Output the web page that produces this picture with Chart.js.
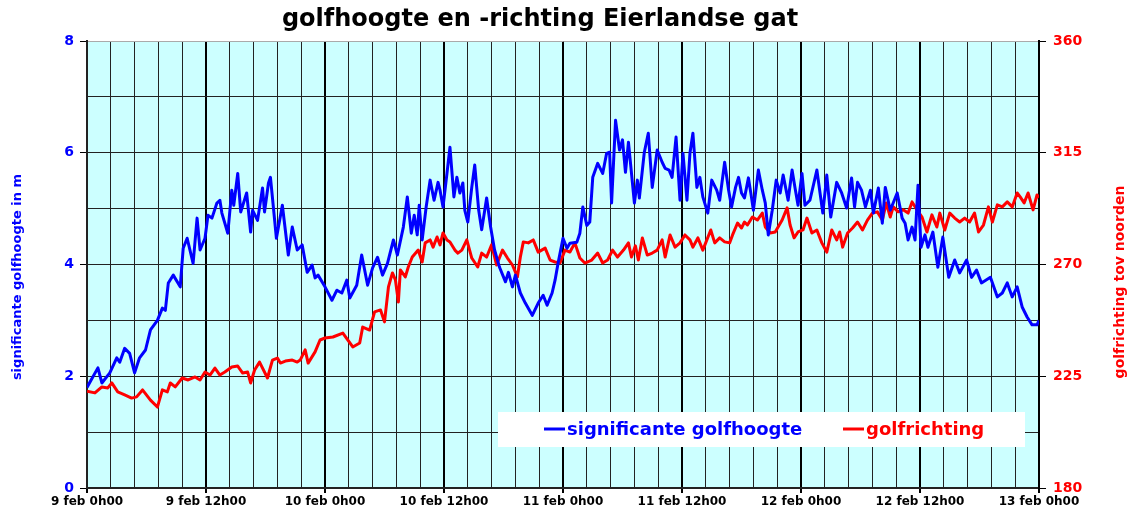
<!DOCTYPE html>
<html>
<head>
<meta charset="utf-8">
<script src="https://cdn.jsdelivr.net/npm/chart.js@4/dist/chart.umd.min.js"></script>
<style>
  html, body { margin: 0; padding: 0; background: #fff; }
  #wrap { width: 1131px; height: 513px; }
</style>
</head>
<body>
<div id="wrap"><canvas id="myChart" width="1131" height="513"></canvas></div>
<script>
// hours since 9 feb 0h00
const titleText = 'golfhoogte en -richting Eierlandse gat';
const days = ['9 feb', '10 feb', '11 feb', '12 feb', '13 feb'];

// significante golfhoogte (m)
const hsHours = [
  0,1.1,1.5,2.3,3.0,3.3,3.8,4.3,4.8,5.3,
  5.9,6.4,7.1,7.6,7.9,8.2,8.7,9.4,9.7,10.1,
  10.7,11.1,11.4,11.9,12.2,12.6,13.1,13.4,13.6,14.2,
  14.6,14.8,15.2,15.5,16.1,16.5,16.7,17.2,17.7,17.9,
  18.3,18.5,19.1,19.7,20.3,20.7,21.2,21.7,22.2,22.7,
  23.0,23.3,24.0,24.7,25.2,25.7,26.2,26.5,27.2,27.7,
  28.3,28.8,29.3,29.8,30.3,30.9,31.3,31.9,32.3,32.7,
  33.0,33.3,33.5,33.8,34.2,34.6,35.0,35.4,35.6,35.9,
  36.3,36.6,37.0,37.3,37.6,37.9,38.1,38.4,38.8,39.1,
  39.5,39.8,40.3,40.7,41.1,41.6,42.2,42.5,42.9,43.2,
  43.7,44.2,44.9,45.5,46.0,46.4,46.9,47.2,47.5,48.0,
  48.4,48.7,49.4,49.7,50.0,50.4,50.7,51.0,51.5,52.0,
  52.4,52.7,52.9,53.3,53.7,54.0,54.3,54.6,55.2,55.5,
  55.7,56.2,56.6,57.0,57.5,58.0,58.3,58.7,59.0,59.4,
  59.8,60.1,60.5,60.8,61.1,61.5,61.8,62.1,62.6,63.0,
  63.5,63.8,64.3,64.7,65.0,65.4,65.7,66.0,66.3,66.7,
  67.0,67.2,67.7,68.1,68.4,68.7,69.1,69.5,69.9,70.2,
  70.7,71.1,71.4,71.7,72.1,72.4,72.9,73.6,74.2,74.6,
  75.0,75.6,76.1,76.6,77.1,77.4,77.7,78.1,78.5,79.0,
  79.3,79.8,80.2,80.5,81.0,81.7,82.2,82.5,82.8,83.2,
  83.5,83.8,84.1,84.5,84.8,85.3,85.8,86.3,86.9,87.5,
  88.0,88.7,89.2,89.7,90.2,91.1,91.8,92.3,92.8,93.3,
  93.8,94.3,94.8,95.3,95.8,96.0
];
const hsValues = [
  1.80,2.15,1.88,2.06,2.33,2.25,2.50,2.41,2.06,2.33,
  2.47,2.83,3.00,3.22,3.18,3.67,3.81,3.60,4.29,4.47,
  4.02,4.83,4.26,4.47,4.88,4.83,5.10,5.15,4.92,4.56,
  5.33,5.06,5.63,4.94,5.28,4.58,4.97,4.79,5.37,4.94,
  5.46,5.56,4.47,5.06,4.17,4.67,4.26,4.35,3.86,3.99,
  3.76,3.81,3.60,3.36,3.54,3.49,3.72,3.40,3.63,4.17,
  3.63,3.94,4.13,3.81,4.02,4.44,4.17,4.67,5.21,4.56,
  4.88,4.53,5.06,4.44,5.03,5.51,5.15,5.47,5.33,5.03,
  5.63,6.10,5.21,5.56,5.28,5.46,4.97,4.76,5.38,5.78,
  4.97,4.62,5.19,4.67,4.26,3.95,3.69,3.86,3.60,3.81,
  3.49,3.31,3.09,3.31,3.45,3.27,3.49,3.72,4.02,4.47,
  4.29,4.38,4.40,4.56,5.03,4.70,4.76,5.56,5.81,5.63,
  5.99,6.01,5.10,6.58,6.05,6.23,5.65,6.19,5.10,5.51,
  5.19,6.01,6.35,5.38,6.05,5.83,5.72,5.69,5.56,6.28,
  5.15,5.99,5.15,5.99,6.35,5.38,5.56,5.21,4.92,5.51,
  5.33,5.15,5.83,5.33,5.03,5.38,5.56,5.28,5.19,5.55,
  5.21,4.97,5.69,5.33,5.10,4.53,4.97,5.51,5.28,5.60,
  5.15,5.69,5.37,5.06,5.63,5.06,5.15,5.69,4.92,5.60,
  4.85,5.47,5.28,5.01,5.55,5.03,5.47,5.33,5.03,5.33,
  4.92,5.37,4.74,5.38,4.97,5.28,4.83,4.74,4.44,4.67,
  4.44,5.42,4.31,4.53,4.31,4.58,3.95,4.49,3.77,4.08,
  3.85,4.08,3.77,3.90,3.67,3.77,3.42,3.49,3.67,3.42,
  3.60,3.24,3.06,2.92,2.92,3.00
];

// golfrichting (graden tov noorden)
const dirHours = [
  0,0.8,1.5,2.1,2.5,3.1,3.8,4.5,5.0,5.6,
  6.4,7.1,7.6,8.1,8.4,8.9,9.6,10.2,10.9,11.4,
  11.9,12.4,12.9,13.4,13.9,14.6,15.2,15.7,16.2,16.5,
  16.9,17.4,18.2,18.7,19.2,19.5,20.0,20.7,21.2,21.5,
  22.0,22.3,23.0,23.5,24.0,24.8,25.8,26.8,27.5,27.8,
  28.5,29.0,29.6,30.0,30.4,30.8,31.1,31.4,31.6,32.1,
  32.4,32.8,33.4,33.8,34.1,34.6,34.9,35.3,35.6,35.9,
  36.3,36.6,37.1,37.4,37.8,38.3,38.8,39.4,39.8,40.3,
  40.8,41.3,41.9,42.4,42.9,43.4,43.7,44.0,44.5,45.0,
  45.5,46.2,46.7,47.2,47.7,48.2,48.7,49.2,49.7,50.2,
  50.9,51.5,52.0,52.5,53.0,53.5,54.1,54.6,54.9,55.3,
  55.6,56.0,56.5,57.0,57.5,58.0,58.3,58.8,59.3,59.8,
  60.3,60.8,61.1,61.6,62.1,62.9,63.3,63.8,64.3,64.8,
  65.1,65.6,66.0,66.3,66.6,67.1,67.6,68.1,68.4,68.9,
  69.4,70.1,70.6,70.9,71.3,71.7,72.2,72.6,73.1,73.6,
  74.1,74.6,75.1,75.6,75.9,76.2,76.7,77.2,77.7,78.2,
  78.7,79.2,79.7,80.2,80.6,81.0,81.3,81.8,82.3,82.8,
  83.2,83.7,84.2,84.7,85.2,85.7,86.0,86.5,87.0,87.5,
  88.0,88.5,89.0,89.5,89.9,90.4,90.9,91.3,91.8,92.3,
  92.8,93.3,93.8,94.1,94.5,94.9,95.4,95.8,96.0
];
const dirValues = [
  219.0,218.3,220.7,220.3,222.3,218.7,217.5,216.2,216.7,219.5,
  215.4,212.6,219.5,218.7,222.3,220.7,224.3,223.5,224.7,223.5,
  226.7,225.5,228.3,225.5,226.7,228.7,229.1,226.3,226.7,222.3,
  227.5,230.7,224.3,231.5,232.3,230.3,231.1,231.5,230.7,231.5,
  235.6,230.3,234.8,239.6,240.4,240.8,242.4,236.8,238.4,244.8,
  243.6,250.9,251.7,246.9,261.0,266.6,263.8,254.9,267.8,265.0,
  269.0,273.0,275.8,271.0,278.7,279.9,277.0,281.1,277.9,282.7,
  279.9,279.1,275.8,274.6,275.8,279.9,272.6,269.0,274.6,273.0,
  277.9,269.8,275.8,272.6,269.8,265.0,273.0,279.1,278.7,279.9,
  275.0,276.6,271.8,271.0,270.6,275.8,275.0,278.7,272.6,270.6,
  271.8,274.6,270.6,271.8,275.8,273.0,275.8,278.7,273.0,277.5,
  271.8,280.7,273.8,274.6,275.8,279.9,273.0,281.9,277.0,278.7,
  281.9,279.9,277.0,280.7,275.8,283.9,278.7,280.7,279.1,278.7,
  281.9,286.7,284.7,287.1,285.9,289.1,287.9,290.7,285.1,282.7,
  283.1,287.9,292.8,285.9,280.7,283.1,283.9,288.7,282.7,283.9,
  278.7,275.0,283.9,279.9,283.1,277.0,282.7,284.7,287.1,283.9,
  287.9,290.7,291.2,287.9,294.8,289.1,293.2,291.2,292.0,290.7,
  295.2,292.0,289.1,283.1,290.0,285.1,290.7,283.9,290.7,288.7,
  287.1,288.7,287.1,290.7,283.1,285.9,293.2,287.1,294.0,293.2,
  295.2,293.2,298.8,297.2,294.8,298.8,292.0,298.0,297.0
];

const FONT = '"DejaVu Sans", Verdana, sans-serif';
const isMult = (v, m) => Math.abs(v / m - Math.round(v / m)) < 1e-6;

const data = {
  datasets: [{
    label: 'significante golfhoogte',
    data: hsHours.map((h, i) => ({ x: h, y: hsValues[i] })),
    borderColor: '#0000ff',
    borderWidth: 3,
    borderJoinStyle: 'round',
    pointRadius: 0,
    tension: 0,
    yAxisID: 'y'
  }, {
    label: 'golfrichting',
    data: dirHours.map((h, i) => ({ x: h, y: dirValues[i] })),
    borderColor: '#ff0000',
    borderWidth: 3,
    borderJoinStyle: 'round',
    pointRadius: 0,
    tension: 0,
    yAxisID: 'y2'
  }]
};

// background, title, axis titles and the legend box inside the plot
const decor = {
  id: 'decor',
  beforeDraw(chart) {
    const { ctx, chartArea: a } = chart;
    ctx.save();
    ctx.fillStyle = '#ccffff';
    ctx.fillRect(a.left, a.top, a.right - a.left, a.bottom - a.top);
    ctx.restore();
  },
  afterDraw(chart) {
    const ctx = chart.ctx;
    ctx.save();
    ctx.textBaseline = 'middle';
    ctx.textAlign = 'center';
    ctx.fillStyle = '#000';
    ctx.font = 'bold 24px ' + FONT;
    ctx.fillText(titleText, 540, 20);

    ctx.save();
    ctx.translate(18, 277);
    ctx.rotate(-Math.PI / 2);
    ctx.font = 'bold 13px ' + FONT;
    ctx.fillStyle = '#0000ff';
    ctx.fillText('significante golfhoogte in m', 0, 0);
    ctx.restore();

    ctx.save();
    ctx.translate(1120, 282);
    ctx.rotate(-Math.PI / 2);
    ctx.font = 'bold 14px ' + FONT;
    ctx.fillStyle = '#ff0000';
    ctx.fillText('golfrichting tov noorden', 0, 0);
    ctx.restore();

    // legend
    ctx.fillStyle = '#fff';
    ctx.fillRect(498, 412, 527, 35);
    const items = [[544, chart.data.datasets[0]], [843, chart.data.datasets[1]]];
    ctx.font = 'bold 18px ' + FONT;
    ctx.textAlign = 'left';
    items.forEach(([x, ds]) => {
      ctx.strokeStyle = ds.borderColor;
      ctx.lineWidth = 3;
      ctx.beginPath();
      ctx.moveTo(x, 429);
      ctx.lineTo(x + 21, 429);
      ctx.stroke();
      ctx.fillStyle = ds.borderColor;
      ctx.fillText(ds.label, x + 23, 430);
    });
    ctx.restore();
  }
};

const config = {
  type: 'line',
  data,
  options: {
    responsive: false,
    animation: false,
    layout: { padding: { top: 41, left: 0, right: 0, bottom: 0 } },
    plugins: {
      legend: { display: false },
      title: { display: false },
      tooltip: { enabled: false }
    },
    scales: {
      x: {
        type: 'linear',
        min: 0,
        max: 96,
        afterFit: s => { s.height = 25; },
        border: { color: '#222', width: 2 },
        grid: {
          color: c => isMult(c.tick.value, 12) ? '#000' : '#222',
          lineWidth: c => isMult(c.tick.value, 12) ? 2 : 1,
          tickLength: 5,
          tickColor: c => isMult(c.tick.value, 12) ? '#000' : 'rgba(0,0,0,0)'
        },
        ticks: {
          stepSize: 2.4,
          autoSkip: false,
          maxRotation: 0,
          padding: 2,
          color: '#000',
          font: { family: FONT, size: 12, weight: 'bold' },
          callback: v => {
            if (!isMult(v, 12)) return '';
            const k = Math.round(v / 12);
            return days[Math.floor(k / 2)] + (k % 2 ? ' 12h00' : ' 0h00');
          }
        }
      },
      y: {
        position: 'left',
        min: 0,
        max: 8,
        afterFit: s => { s.width = 87; },
        border: { color: '#222', width: 2 },
        grid: {
          color: c => c.tick.value === 8 ? '#aaa' : '#222',
          tickLength: 7,
          tickColor: c => c.tick.value % 2 === 0 ? '#000' : 'rgba(0,0,0,0)'
        },
        ticks: {
          stepSize: 1,
          padding: 6,
          color: '#0000ff',
          font: { family: FONT, size: 14, weight: 'bold' },
          callback: v => v % 2 === 0 ? v : ''
        }
      },
      y2: {
        position: 'right',
        min: 180,
        max: 360,
        afterFit: s => { s.width = 92; },
        border: { color: '#000', width: 2 },
        grid: {
          drawOnChartArea: false,
          tickLength: 7,
          tickColor: c => c.tick.value % 45 === 0 ? '#000' : 'rgba(0,0,0,0)'
        },
        ticks: {
          stepSize: 22.5,
          padding: 7,
          color: '#ff0000',
          font: { family: FONT, size: 14, weight: 'bold' },
          callback: v => v % 45 === 0 ? v : ''
        }
      }
    }
  },
  plugins: [decor]
};

const myChart = new Chart(
  document.getElementById('myChart'),
  config
);
</script>
</body>
</html>
